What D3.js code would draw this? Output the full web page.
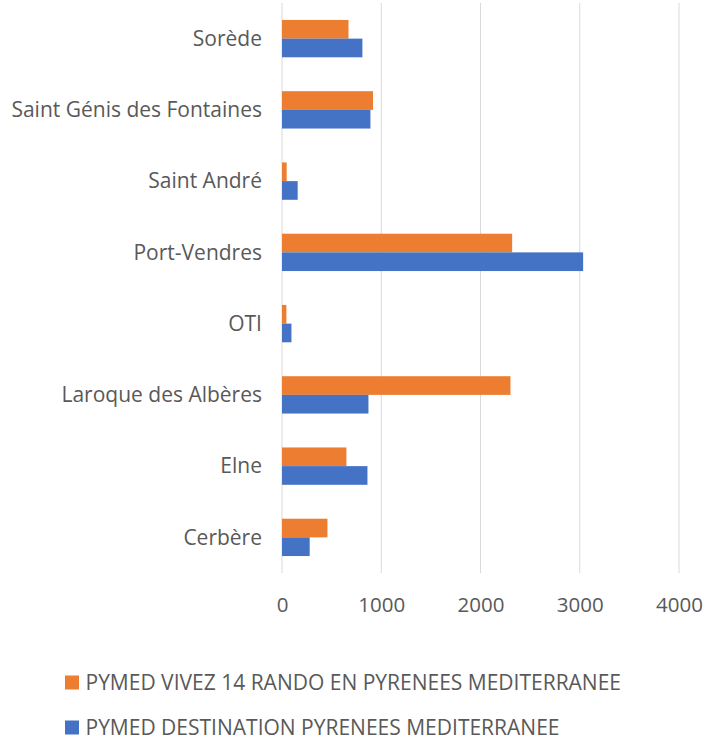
<!DOCTYPE html>
<html>
<head>
<meta charset="utf-8">
<script src="https://cdn.jsdelivr.net/npm/d3@7"></script>
<style>
  body { margin: 0; background: #fff; }
  svg text { font-family: "Open Sans", sans-serif; fill: #595959; }
</style>
</head>
<body>
<div id="chart"></div>
<script>
const width = 705;
const height = 743;
const margin = {top: 3, right: 26, bottom: 170, left: 282};

const categories = ["Sorède", "Saint Génis des Fontaines", "Saint André", "Port-Vendres",
  "OTI", "Laroque des Albères", "Elne", "Cerbère"];
const seriesNames = ["PYMED VIVEZ 14 RANDO EN PYRENEES MEDITERRANEE",
  "PYMED DESTINATION PYRENEES MEDITERRANEE"];
const randoValues = [670, 917, 47, 2319, 44, 2302, 649, 458];
const destinationValues = [810, 891, 158, 3034, 95, 871, 861, 279];
const xTicks = [0, 1000, 2000, 3000, 4000];

const orangeCol = "#ed7d31";
const blueCol = "#4472c4";
const gridCol = "#d9d9d9";

const rows = categories.map((c, i) => ({
  name: c,
  values: [
    {key: seriesNames[0], value: randoValues[i]},
    {key: seriesNames[1], value: destinationValues[i]}
  ]
}));

const svg = d3.select("#chart").append("svg")
  .attr("width", width)
  .attr("height", height);

const x = d3.scaleLinear()
  .domain([0, 4000])
  .range([margin.left, 679]);

const y = d3.scaleBand()
  .domain(categories)
  .range([margin.top, 573])
  .paddingInner(0.476)
  .paddingOuter(0.238);

const band = d3.scaleBand()
  .domain(seriesNames)
  .range([0, y.bandwidth()]);

const colour = d3.scaleOrdinal()
  .domain(seriesNames)
  .range([orangeCol, blueCol]);

// gridlines
svg.append("g")
  .selectAll("line")
  .data(xTicks)
  .join("line")
    .attr("x1", d => x(d))
    .attr("x2", d => x(d))
    .attr("y1", margin.top)
    .attr("y2", 573)
    .attr("stroke", gridCol)
    .attr("stroke-width", 1);

// x axis labels
svg.append("g")
  .attr("transform", `translate(0, 612)`)
  .call(d3.axisBottom(x).tickValues(xTicks).tickSize(0).tickPadding(0).tickFormat(d3.format("d")))
  .call(g => g.select(".domain").remove())
  .call(g => g.selectAll("text")
    .attr("dy", 0)
    .attr("y", 0)
    .style("font-size", "20.5px")
    .style("font-family", "'Open Sans', sans-serif")
    .attr("fill", "#595959"));

// category labels
svg.append("g")
  .selectAll("text")
  .data(categories)
  .join("text")
    .attr("x", 262)
    .attr("y", d => y(d) + y.bandwidth() / 2)
    .attr("dy", "0.35em")
    .attr("text-anchor", "end")
    .style("font-size", "21px")
    .text(d => d);

// bars
svg.append("g")
  .selectAll("g")
  .data(rows)
  .join("g")
    .attr("transform", d => `translate(0, ${y(d.name)})`)
  .selectAll("rect")
  .data(d => d.values)
  .join("rect")
    .attr("x", x(0))
    .attr("y", d => band(d.key))
    .attr("width", d => x(d.value) - x(0))
    .attr("height", band.bandwidth())
    .attr("fill", d => colour(d.key));

// legend
const legend = svg.append("g")
  .selectAll("g")
  .data(seriesNames)
  .join("g")
    .attr("transform", (d, i) => `translate(65, ${682.5 + i * 45})`);

legend.append("rect")
  .attr("x", 0)
  .attr("y", -7)
  .attr("width", 14)
  .attr("height", 14)
  .attr("fill", d => colour(d));

legend.append("text")
  .attr("x", 20.5)
  .attr("y", 7)
  .style("font-size", "21px")
  .text(d => d);
</script>
</body>
</html>
